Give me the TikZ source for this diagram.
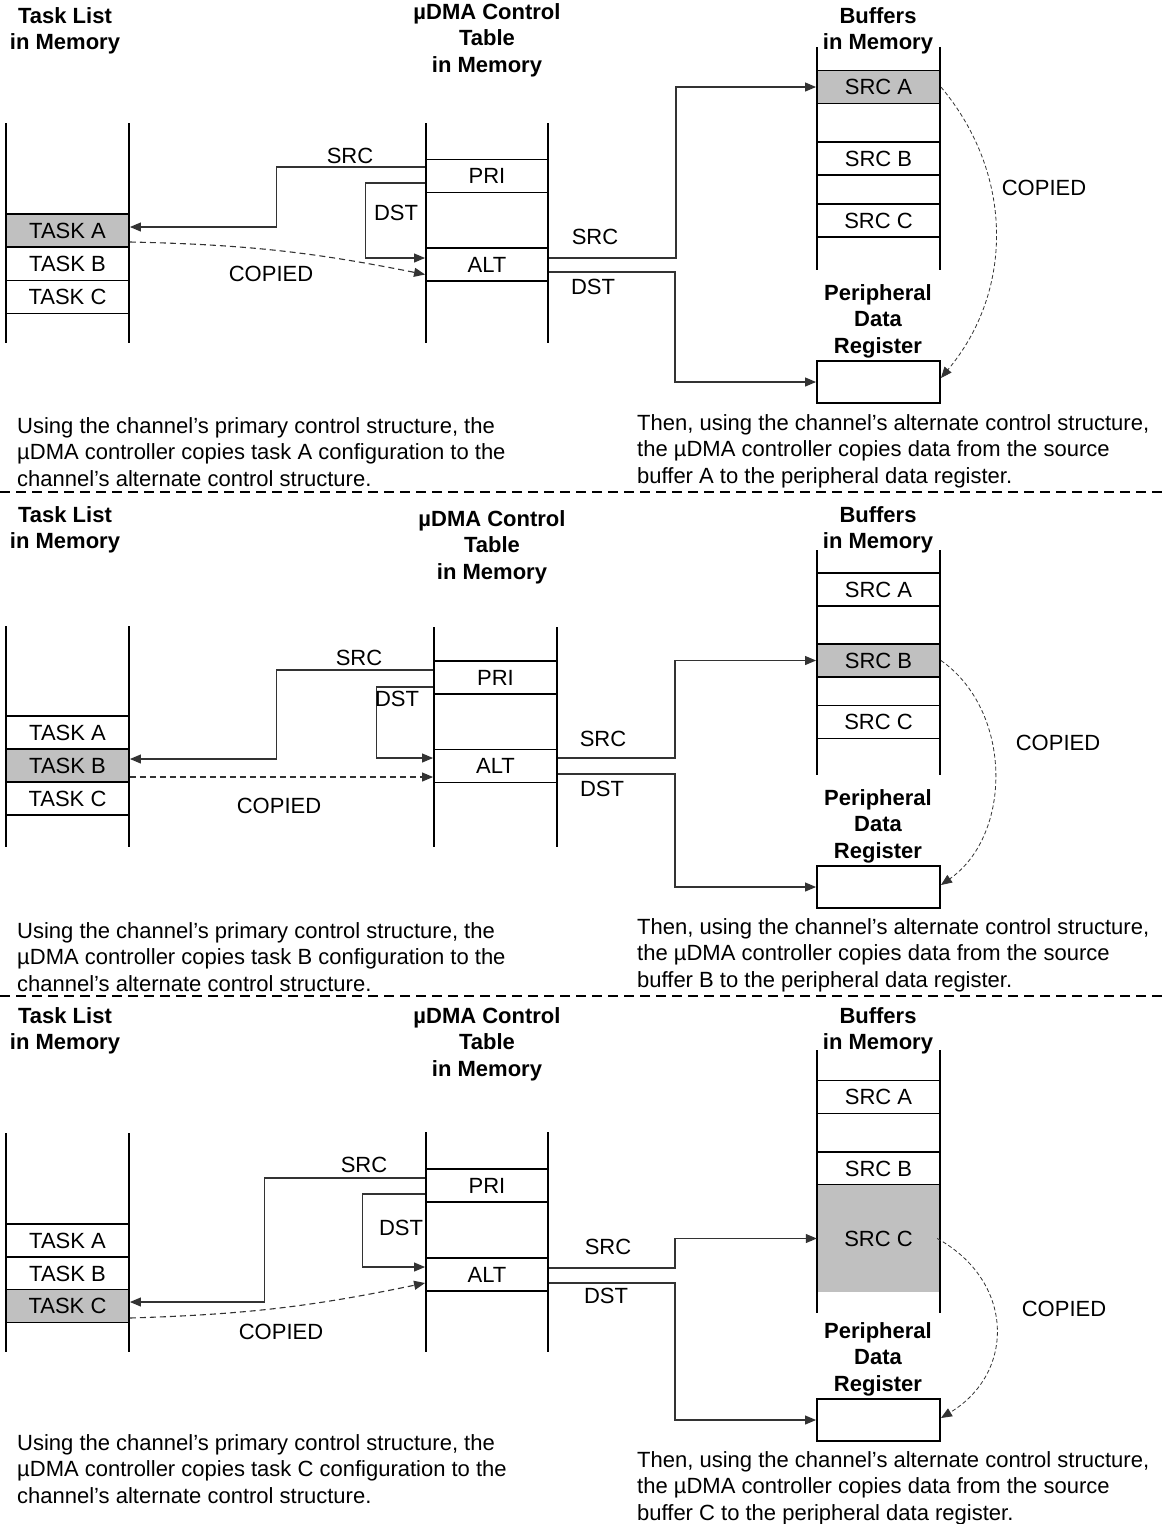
\documentclass[tikz,border=0pt]{standalone}
\usepackage{fontspec}
\setmainfont{Liberation Sans}
\usetikzlibrary{arrows.meta, positioning}
\definecolor{cellgris}{HTML}{C0C0C0}
\definecolor{trait}{HTML}{333333}

\begin{document}
\begin{tikzpicture}[x=1pt, y=-1pt,
    font=\fontsize{22}{26.5}\selectfont,
    cell/.style={draw, line width=1.9pt, minimum width=123pt, minimum height=33pt, inner sep=0pt},
    hot/.style={cell, fill=cellgris},
    head/.style={font=\fontsize{22}{26.5}\selectfont\bfseries, align=center},
    note/.style={align=left, anchor=west, inner sep=0pt},
    link/.style={trait, line width=1.1pt, -{Triangle[length=11pt,width=9pt]}},
    copie/.style={link, dash pattern=on 6pt off 4pt},
    copiecourbe/.style={link, line width=0.8pt, dash pattern=on 4pt off 2.5pt},
    colonne/.style={line width=1.9pt},
    separateur/.style={line width=1.5pt, dash pattern=on 10pt off 6pt}]
    \useasboundingbox (0,0) rectangle (1163,1524);

    % ---------- Panneau 1 : tache A ----------
    \node[head] (hT1) at (65,31) {Task List\\in Memory};
    \node[head] (hC1) at (487,40) {µDMA Control\\Table\\in Memory};
    \node[head] (hB1) at (878,31) {Buffers\\in Memory};
    \node[head] (hR1) at (878,321) {Peripheral\\Data\\Register};
    % Listes en memoire
    \node[hot]  (tA1) at (67.5,230.5) {TASK A};
    \node[cell] (tB1) at (67.5,264) {TASK B};
    \node[cell] (tC1) at (67.5,297) {TASK C};
    \node[cell, minimum width=122pt] (pri1) at (487,176) {PRI};
    \node[cell, minimum width=122pt] (alt1) at (487,264.5) {ALT};
    \node[hot]  (sA1) at (878.5,87) {SRC A};
    \node[cell] (sB1) at (878.5,158.5) {SRC B};
    \node[cell] (sC1) at (878.5,220.5) {SRC C};
    \node[cell, minimum height=42pt] (reg1) at (878.5,382) {};
    \draw[colonne] (6,123) -- (6,343) (129,123) -- (129,343);
    \draw[colonne] (426,123) -- (426,343) (548,123) -- (548,343);
    \draw[colonne] (817,47) -- (817,270) (940,47) -- (940,270);
    % Liens
    \draw[link] ([yshift=9pt]pri1.west) -- ++(-149,0) |- ([yshift=3.5pt]tA1.east);
    \draw[link] ([yshift=-7pt]pri1.west) -- ++(-60,0) |- ([yshift=6.5pt]alt1.west);
    \draw[copie] ([yshift=-11.5pt]tA1.east) to[bend left=5] ([yshift=-10pt]alt1.west);
    \draw[link] ([yshift=6.5pt]alt1.east) -- ++(127,0) |- (sA1.west);
    \draw[link] ([yshift=-7.5pt]alt1.east) -- ++(126,0) |- (reg1.west);
    \draw[copiecourbe] (sA1.east) to[bend left=40] ([yshift=4pt]reg1.east);
    \node (ls1) at (350,156) {SRC};
    \node (ld1) at (396,213) {DST};
    \node (lc1) at (271,274) {COPIED};
    \node (rs1) at (595,237) {SRC};
    \node (rd1) at (593,287) {DST};
    \node (rc1) at (1044,188) {COPIED};
    \node[note] (ng1) at (17,452) {Using the channel’s primary control structure, the\\µDMA controller copies task A configuration to the\\channel’s alternate control structure.};
    \node[note] (nd1) at (637,451) {Then, using the channel’s alternate control structure,\\the µDMA controller copies data from the source\\buffer A to the peripheral data register.};
    \draw[separateur] (0,492) -- (1163,492);

    % ---------- Panneau 2 : tache B ----------
    \node[head] (hT2) at (65,530) {Task List\\in Memory};
    \node[head] (hC2) at (492,547) {µDMA Control\\Table\\in Memory};
    \node[head] (hB2) at (878,530) {Buffers\\in Memory};
    \node[head] (hR2) at (878,826) {Peripheral\\Data\\Register};
    \node[cell] (tA2) at (67.5,732.5) {TASK A};
    \node[hot]  (tB2) at (67.5,765.5) {TASK B};
    \node[cell] (tC2) at (67.5,798.5) {TASK C};
    \node[cell] (pri2) at (495.5,677.5) {PRI};
    \node[cell] (alt2) at (495.5,766) {ALT};
    \node[cell] (sA2) at (878.5,589.5) {SRC A};
    \node[hot]  (sB2) at (878.5,660.5) {SRC B};
    \node[cell] (sC2) at (878.5,722) {SRC C};
    \node[cell, minimum height=42pt] (reg2) at (878.5,887) {};
    \draw[colonne] (6,626) -- (6,847) (129,626) -- (129,847);
    \draw[colonne] (434,627) -- (434,847) (557,627) -- (557,847);
    \draw[colonne] (817,550) -- (817,775) (940,550) -- (940,775);
    % Liens
    \draw[link] ([yshift=7.5pt]pri2.west) -- ++(-157,0) |- ([yshift=6.5pt]tB2.east);
    \draw[link] ([yshift=-9.5pt]pri2.west) -- ++(-57,0) |- ([yshift=8pt]alt2.west);
    \draw[copie] ([yshift=-11.5pt]tB2.east) -- ([yshift=-11pt]alt2.west);
    \draw[link] ([yshift=8pt]alt2.east) -- ++(117,0) |- (sB2.west);
    \draw[link] ([yshift=-8pt]alt2.east) -- ++(117,0) |- (reg2.west);
    \draw[copiecourbe] (sB2.east) to[bend left=55] ([yshift=2pt]reg2.east);
    \node (ls2) at (359,658) {SRC};
    \node (ld2) at (397,699) {DST};
    \node (lc2) at (279,806) {COPIED};
    \node (rs2) at (603,739) {SRC};
    \node (rd2) at (602,789) {DST};
    \node (rc2) at (1058,743) {COPIED};
    \node[note] (ng2) at (17,957) {Using the channel’s primary control structure, the\\µDMA controller copies task B configuration to the\\channel’s alternate control structure.};
    \node[note] (nd2) at (637,955) {Then, using the channel’s alternate control structure,\\the µDMA controller copies data from the source\\buffer B to the peripheral data register.};
    \draw[separateur] (0,996) -- (1163,996);

    % ---------- Panneau 3 : tache C ----------
    \node[head] (hT3) at (65,1031) {Task List\\in Memory};
    \node[head] (hC3) at (487,1044) {µDMA Control\\Table\\in Memory};
    \node[head] (hB3) at (878,1031) {Buffers\\in Memory};
    \node[head] (hR3) at (878,1359) {Peripheral\\Data\\Register};
    \node[cell] (tA3) at (67.5,1240.5) {TASK A};
    \node[cell] (tB3) at (67.5,1273.5) {TASK B};
    \node[hot]  (tC3) at (67.5,1306) {TASK C};
    \node[cell, minimum width=122pt] (pri3) at (487,1185.5) {PRI};
    \node[cell, minimum width=122pt] (alt3) at (487,1274.5) {ALT};
    \node[cell] (sA3) at (878.5,1097) {SRC A};
    \node[cell] (sB3) at (878.5,1168.5) {SRC B};
    \node[fill=cellgris, minimum width=123pt, minimum height=107pt, inner sep=0pt] (sC3) at (878.5,1238.5) {SRC C};
    \node[cell, minimum height=42pt] (reg3) at (878.5,1420) {};
    \draw[colonne] (6,1133) -- (6,1352) (129,1133) -- (129,1352);
    \draw[colonne] (426,1132) -- (426,1352) (548,1132) -- (548,1352);
    \draw[colonne] (817,1050) -- (817,1313) (940,1050) -- (940,1313);
    % Liens
    \draw[link] ([yshift=7.5pt]pri3.west) -- ++(-161,0) |- ([yshift=4pt]tC3.east);
    \draw[link] ([yshift=-8.5pt]pri3.west) -- ++(-63,0) |- ([yshift=7.5pt]alt3.west);
    \draw[copie] ([yshift=-12pt]tC3.east) to[bend right=5] ([yshift=-8.5pt]alt3.west);
    \draw[link] ([yshift=6.5pt]alt3.east) -- ++(126,0) |- (sC3.west);
    \draw[link] ([yshift=-8.5pt]alt3.east) -- ++(126,0) |- (reg3.west);
    \draw[copiecourbe] ([xshift=-3pt]sC3.east) to[bend left=60, looseness=1.25] ([yshift=2pt]reg3.east);
    \node (ls3) at (364,1165) {SRC};
    \node (ld3) at (401,1228) {DST};
    \node (lc3) at (281,1332) {COPIED};
    \node (rs3) at (608,1247) {SRC};
    \node (rd3) at (606,1296) {DST};
    \node (rc3) at (1064,1309) {COPIED};
    \node[note] (ng3) at (17,1469) {Using the channel’s primary control structure, the\\µDMA controller copies task C configuration to the\\channel’s alternate control structure.};
    \node[note] (nd3) at (637,1488) {Then, using the channel’s alternate control structure,\\the µDMA controller copies data from the source\\buffer C to the peripheral data register.};
  \end{tikzpicture}
\end{document}
